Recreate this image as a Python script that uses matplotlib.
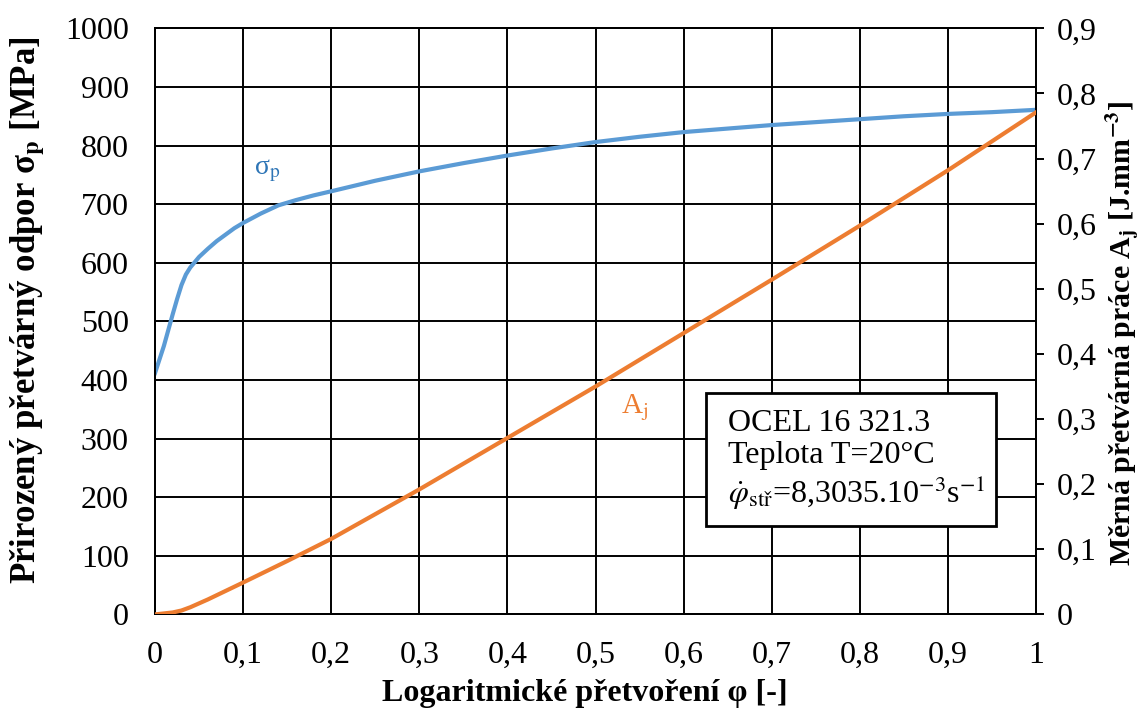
import matplotlib
matplotlib.use("Agg")
import matplotlib.pyplot as plt
from matplotlib.patches import Rectangle
from matplotlib.ticker import FuncFormatter

plt.rcParams['font.family'] = ['Liberation Serif', 'DejaVu Serif']
plt.rcParams['mathtext.fontset'] = 'stix'

# flow stress curve (left axis)
phi_s = [0, 0.005, 0.01, 0.015, 0.02, 0.025, 0.03, 0.035, 0.04, 0.05, 0.06,
         0.07, 0.08, 0.09, 0.1, 0.12, 0.14, 0.16, 0.18, 0.2, 0.25, 0.3, 0.35,
         0.4, 0.45, 0.5, 0.55, 0.6, 0.65, 0.7, 0.75, 0.8, 0.85, 0.9, 0.95, 1.0]
sigma_p = [412, 435, 458, 485, 512, 538, 562, 580, 592, 610, 624,
           637, 648, 659, 668, 684, 698, 707, 715, 722, 740, 756, 770,
           783, 795, 806, 815, 823, 829, 835, 840, 845, 850, 854, 857, 861]

# specific deformation work (right axis)
phi_a = [0, 0.02, 0.03, 0.04, 0.06, 0.08, 0.1, 0.15, 0.2, 0.3, 0.4, 0.5,
         0.6, 0.7, 0.8, 0.9, 1.0]
a_j = [0, 0.003, 0.006, 0.011, 0.023, 0.036, 0.049, 0.082, 0.116, 0.192,
       0.271, 0.350, 0.432, 0.514, 0.597, 0.682, 0.771]

x_ticks = [0, 0.1, 0.2, 0.3, 0.4, 0.5, 0.6, 0.7, 0.8, 0.9, 1.0]
left_ticks = [0, 100, 200, 300, 400, 500, 600, 700, 800, 900, 1000]
right_ticks = [0, 0.1, 0.2, 0.3, 0.4, 0.5, 0.6, 0.7, 0.8, 0.9]

blue = '#5B9BD5'
orange = '#ED7D31'


def comma(v, pos):
    # decimal comma, e.g. 0,3 ; 1
    s = f"{v:.1f}".rstrip('0').rstrip('.')
    return s.replace('.', ',')


fig = plt.figure(figsize=(11.46, 7.09), dpi=100)
ax = fig.add_axes([0.1353, 0.1334, 0.7687, 0.8266])
ax2 = ax.twinx()

ax.plot(phi_s, sigma_p, color=blue, lw=3.0, zorder=3)
ax2.plot(phi_a, a_j, color=orange, lw=3.0, zorder=3)

ax.set_xlim(0, 1)
ax.set_ylim(0, 1000)
ax2.set_ylim(0, 0.9)
ax.set_xticks(x_ticks)
ax.set_yticks(left_ticks)
ax2.set_yticks(right_ticks)
ax.xaxis.set_major_formatter(FuncFormatter(comma))
ax2.yaxis.set_major_formatter(FuncFormatter(comma))

ax.grid(True, color='black', lw=1.4)
ax.set_axisbelow(True)
for a in (ax, ax2):
    for sp in a.spines.values():
        sp.set_color('black')
        sp.set_linewidth(1.4)

ax.tick_params(axis='y', length=0, labelsize=23, pad=19)
ax.tick_params(axis='x', length=0, labelsize=23, pad=19)
ax2.tick_params(axis='y', length=6, width=1.4, labelsize=23, pad=9)

# axis titles
ax.set_xlabel('Logaritmické přetvoření φ [-]', fontsize=23, fontweight='bold')
ax.xaxis.set_label_coords(0.488, -0.135)
ax.xaxis.label.set_va('center')

ax.set_ylabel(r'Přirozený přetvárný odpor σ$_\mathbf{p}$ [MPa]',
              fontsize=25, fontweight='bold')
ax.yaxis.set_label_coords(-0.145, 0.519)
ax.yaxis.label.set_va('center')

ax2.set_ylabel(r'Měrná přetvárná práce A$_\mathbf{j}$ [J.mm$^\mathbf{-3}$]',
               fontsize=21.5, fontweight='bold')
ax2.yaxis.set_label_coords(1.099, 0.48)
ax2.yaxis.label.set_va('center')

# curve labels
ax.text(0.127, 757, r'σ$_\mathrm{p}$', color='#2E75B6', fontsize=20,
        ha='center', va='center')
ax.text(0.544, 352, r'A$_\mathrm{j}$', color=orange, fontsize=21,
        ha='center', va='center')

# info box
ax.add_patch(Rectangle((0.6255, 151), 0.3292, 227, facecolor='white',
                       edgecolor='black', linewidth=2, zorder=4))
box_text = ('OCEL 16 321.3\nTeplota T=20°C\n'
            r'$\dot{\varphi}_{\mathrm{stř}}$=8,3035.10$^{-3}$s$^{-1}$')
ax.text(0.6505, 263, box_text, fontsize=23, ha='left', va='center',
        linespacing=1.12, zorder=5)

fig.savefig('out.png', dpi=100)
